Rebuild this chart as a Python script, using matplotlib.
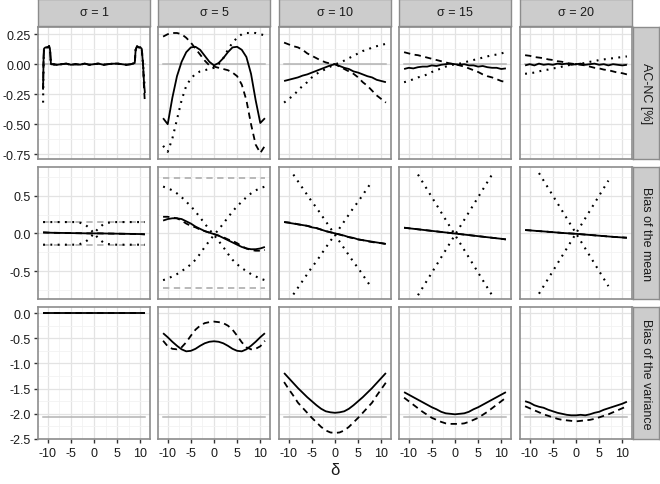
import numpy as np
import matplotlib.pyplot as plt

plt.rcParams['font.family'] = ['Liberation Sans', 'DejaVu Sans']
plt.rcParams['axes.unicode_minus'] = False

# facet labels
sigmas = ['σ = 1', 'σ = 5', 'σ = 10', 'σ = 15', 'σ = 20']
row_labels = ['AC-NC [%]', 'Bias of the mean', 'Bias of the variance']

delta = np.arange(-11, 12)

# ---- row 1: AC-NC [%] ----
delta_s1 = [-11, -10.9, -10.8, -10.5, -10.0, -9.7, -9.5, -9.3, -9, -8, -7, -6, -5, -4, -3, -2,
            -1, 0, 1, 2, 3, 4, 5, 6, 7, 8, 8.8, 9.0, 9.3, 9.7, 10.0, 10.3, 10.6, 10.8, 11]
acnc_s1_solid = [-0.21, 0.05, 0.13, 0.14, 0.14, 0.15, 0.12, 0.0, 0.0, -0.005, 0.0, 0.005, -0.005,
                 0.0, -0.004, 0.005, -0.005, 0.0, 0.005, -0.005, 0.0, 0.004, 0.005, 0.0, -0.005,
                 0.0, 0.01, 0.12, 0.15, 0.14, 0.14, 0.13, 0.0, -0.15, -0.24]
acnc_s1_dashed = [-0.21, 0.05, 0.13, 0.14, 0.14, 0.15, 0.12, 0.0, 0.0, -0.005, 0.0, 0.005, -0.005,
                  0.0, -0.004, 0.005, -0.005, 0.0, 0.005, -0.005, 0.0, 0.004, 0.005, 0.0, -0.005,
                  0.0, 0.01, 0.12, 0.15, 0.14, 0.14, 0.13, 0.0, -0.2, -0.32]
acnc_s1_dotted = [-0.32, 0.0, 0.13, 0.14, 0.14, 0.15, 0.12, 0.0, 0.0, -0.005, 0.0, 0.005, -0.005,
                  0.0, -0.004, 0.005, -0.005, 0.0, 0.005, -0.005, 0.0, 0.004, 0.005, 0.0, -0.005,
                  0.0, 0.01, 0.12, 0.15, 0.14, 0.14, 0.13, 0.0, -0.12, -0.2]

acnc_solid = [
    None,
    [-0.45, -0.50, -0.28, -0.10, 0.02, 0.10, 0.14, 0.145, 0.12, 0.07, 0.02, -0.01,
     0.01, 0.05, 0.1, 0.14, 0.145, 0.12, 0.06, -0.08, -0.3, -0.49, -0.45],
    [-0.14, -0.13, -0.12, -0.11, -0.095, -0.085, -0.07, -0.055, -0.04, -0.025, -0.01, 0.0,
     -0.015, -0.03, -0.04, -0.06, -0.07, -0.085, -0.1, -0.11, -0.13, -0.14, -0.15],
    [-0.04, -0.03, -0.035, -0.025, -0.02, -0.02, -0.01, -0.015, -0.005, 0.0, 0.005, 0.0,
     -0.005, 0.0, -0.01, -0.01, -0.02, -0.015, -0.025, -0.03, -0.03, -0.04, -0.035],
    [-0.01, 0.0, -0.01, 0.005, -0.005, 0.0, -0.005, 0.005, 0.0, 0.005, -0.005, 0.0,
     0.005, -0.005, 0.0, 0.005, -0.005, 0.0, -0.01, 0.0, -0.005, -0.01, -0.005],
]
acnc_dashed = [
    None,
    [0.23, 0.25, 0.26, 0.26, 0.25, 0.22, 0.18, 0.13, 0.08, 0.03, -0.01, -0.02,
     -0.03, -0.04, -0.05, -0.07, -0.1, -0.17, -0.3, -0.5, -0.67, -0.74, -0.68],
    [0.18, 0.165, 0.15, 0.14, 0.12, 0.09, 0.07, 0.05, 0.03, 0.015, 0.005, 0.0,
     -0.02, -0.04, -0.06, -0.08, -0.11, -0.15, -0.18, -0.22, -0.26, -0.29, -0.32],
    [0.10, 0.09, 0.08, 0.075, 0.065, 0.055, 0.045, 0.035, 0.025, 0.015, 0.005, 0.0,
     -0.01, -0.02, -0.035, -0.05, -0.065, -0.085, -0.1, -0.11, -0.125, -0.14, -0.15],
    [0.075, 0.07, 0.06, 0.055, 0.05, 0.04, 0.035, 0.025, 0.02, 0.01, 0.005, 0.0,
     -0.005, -0.01, -0.02, -0.03, -0.035, -0.045, -0.05, -0.06, -0.07, -0.075, -0.085],
]
acnc_dotted = [
    None,
    [-0.68, -0.73, -0.62, -0.46, -0.3, -0.18, -0.12, -0.08, -0.06, -0.05, -0.04, -0.03,
     0.0, 0.05, 0.12, 0.18, 0.22, 0.25, 0.26, 0.26, 0.26, 0.25, 0.24],
    [-0.32, -0.29, -0.26, -0.22, -0.18, -0.15, -0.11, -0.08, -0.06, -0.04, -0.02, 0.0,
     0.01, 0.03, 0.05, 0.07, 0.09, 0.11, 0.12, 0.14, 0.15, 0.16, 0.17],
    [-0.15, -0.14, -0.125, -0.11, -0.1, -0.085, -0.065, -0.05, -0.035, -0.02, -0.01, 0.0,
     0.005, 0.015, 0.025, 0.035, 0.045, 0.055, 0.065, 0.075, 0.08, 0.09, 0.10],
    [-0.08, -0.075, -0.07, -0.06, -0.05, -0.045, -0.035, -0.03, -0.02, -0.01, -0.005, 0.0,
     0.005, 0.01, 0.02, 0.025, 0.035, 0.04, 0.045, 0.05, 0.055, 0.06, 0.065],
]

# ---- row 2: bias of the mean ----
mean_solid = [
    [0.01, 0.01, 0.008, 0.007, 0.006, 0.005, 0.004, 0.003, 0.002, 0.001, 0.0, 0.0,
     0.0, -0.001, -0.002, -0.003, -0.004, -0.005, -0.006, -0.007, -0.008, -0.009, -0.01],
    [0.17, 0.19, 0.2, 0.2, 0.19, 0.16, 0.13, 0.09, 0.06, 0.03, 0.01, -0.01,
     -0.03, -0.06, -0.09, -0.12, -0.15, -0.18, -0.2, -0.21, -0.21, -0.2, -0.18],
    [0.15, 0.14, 0.13, 0.12, 0.11, 0.1, 0.08, 0.07, 0.05, 0.03, 0.015, 0.0,
     -0.015, -0.03, -0.05, -0.06, -0.08, -0.09, -0.1, -0.11, -0.12, -0.13, -0.14],
    [0.075, 0.068, 0.061, 0.054, 0.047, 0.04, 0.033, 0.026, 0.019, 0.012, 0.005, -0.002,
     -0.009, -0.016, -0.023, -0.03, -0.037, -0.044, -0.051, -0.058, -0.065, -0.072, -0.08],
    [0.044, 0.04, 0.035, 0.03, 0.026, 0.021, 0.016, 0.011, 0.006, 0.002, -0.002, -0.006,
     -0.011, -0.016, -0.021, -0.026, -0.031, -0.036, -0.041, -0.046, -0.05, -0.054, -0.058],
]
mean_dashed = [
    [0.015, 0.01, 0.008, 0.007, 0.006, 0.005, 0.004, 0.003, 0.002, 0.001, 0.0, 0.0,
     0.0, -0.001, -0.002, -0.003, -0.004, -0.005, -0.006, -0.007, -0.008, -0.01, -0.015],
    [0.22, 0.22, 0.21, 0.2, 0.17, 0.13, 0.1, 0.08, 0.05, 0.03, 0.01, -0.01,
     -0.03, -0.05, -0.08, -0.1, -0.13, -0.17, -0.2, -0.22, -0.23, -0.23, -0.22],
    [0.15, 0.145, 0.135, 0.12, 0.11, 0.1, 0.085, 0.07, 0.05, 0.03, 0.015, 0.0,
     -0.015, -0.035, -0.05, -0.065, -0.08, -0.09, -0.105, -0.115, -0.125, -0.13, -0.14],
    [0.075, 0.068, 0.061, 0.054, 0.047, 0.04, 0.033, 0.026, 0.019, 0.012, 0.005, -0.002,
     -0.009, -0.016, -0.023, -0.03, -0.037, -0.044, -0.051, -0.058, -0.065, -0.072, -0.08],
    [0.044, 0.04, 0.035, 0.03, 0.026, 0.021, 0.016, 0.011, 0.006, 0.002, -0.002, -0.006,
     -0.011, -0.016, -0.021, -0.026, -0.031, -0.036, -0.041, -0.046, -0.05, -0.054, -0.058],
]
delta_dot = [delta, delta, np.arange(-9, 9), np.arange(-8, 9), np.arange(-8, 8)]
mean_dot_down = [
    [0.15, 0.15, 0.15, 0.15, 0.15, 0.15, 0.15, 0.15, 0.14, 0.12, 0.07, 0.0,
     -0.07, -0.12, -0.14, -0.15, -0.15, -0.15, -0.15, -0.15, -0.15, -0.15, -0.15],
    [0.62, 0.6, 0.57, 0.53, 0.48, 0.42, 0.36, 0.29, 0.21, 0.13, 0.05, -0.02,
     -0.1, -0.18, -0.27, -0.35, -0.41, -0.46, -0.5, -0.54, -0.57, -0.6, -0.62],
    [0.78, 0.69, 0.6, 0.51, 0.42, 0.34, 0.25, 0.16, 0.07, -0.02, -0.11, -0.2,
     -0.29, -0.38, -0.46, -0.55, -0.64, -0.73],
    [0.78, 0.68, 0.58, 0.48, 0.38, 0.28, 0.18, 0.08, -0.02, -0.12, -0.22, -0.32,
     -0.42, -0.52, -0.62, -0.72, -0.82],
    [0.8, 0.7, 0.6, 0.5, 0.4, 0.3, 0.2, 0.1, 0.0, -0.1, -0.2, -0.3,
     -0.4, -0.5, -0.6, -0.7],
]
mean_dot_up = [
    [-0.15, -0.15, -0.15, -0.15, -0.15, -0.15, -0.15, -0.15, -0.14, -0.12, -0.07, 0.0,
     0.07, 0.12, 0.14, 0.15, 0.15, 0.15, 0.15, 0.15, 0.15, 0.15, 0.15],
    [-0.62, -0.6, -0.57, -0.54, -0.5, -0.46, -0.41, -0.35, -0.27, -0.18, -0.1, -0.02,
     0.05, 0.13, 0.21, 0.29, 0.36, 0.42, 0.48, 0.53, 0.57, 0.6, 0.62],
    [-0.81, -0.72, -0.63, -0.54, -0.45, -0.37, -0.28, -0.19, -0.1, -0.02, 0.07, 0.16,
     0.25, 0.34, 0.42, 0.51, 0.6, 0.69],
    [-0.82, -0.72, -0.62, -0.52, -0.42, -0.32, -0.22, -0.12, -0.02, 0.08, 0.18, 0.28,
     0.38, 0.48, 0.58, 0.68, 0.78],
    [-0.8, -0.7, -0.6, -0.5, -0.4, -0.3, -0.2, -0.1, 0.0, 0.1, 0.2, 0.3,
     0.4, 0.5, 0.6, 0.7],
]
mean_ref = [0.15, 0.73, None, None, None]

# ---- row 3: bias of the variance ----
var_solid = [
    [0.0] * 23,
    [-0.4, -0.48, -0.57, -0.65, -0.72, -0.76, -0.75, -0.71, -0.65, -0.6, -0.57, -0.56,
     -0.57, -0.6, -0.65, -0.71, -0.75, -0.76, -0.72, -0.65, -0.57, -0.48, -0.4],
    [-1.19, -1.29, -1.39, -1.49, -1.58, -1.67, -1.75, -1.83, -1.9, -1.95, -1.97, -1.98,
     -1.97, -1.95, -1.9, -1.83, -1.75, -1.67, -1.58, -1.49, -1.39, -1.29, -1.19],
    [-1.57, -1.62, -1.67, -1.72, -1.77, -1.82, -1.87, -1.91, -1.96, -1.99, -2.0, -2.01,
     -2.0, -1.99, -1.96, -1.91, -1.87, -1.82, -1.77, -1.72, -1.67, -1.62, -1.57],
    [-1.75, -1.78, -1.83, -1.86, -1.88, -1.92, -1.95, -1.98, -2.0, -2.02, -2.03, -2.03,
     -2.02, -2.03, -2.01, -1.98, -1.96, -1.92, -1.89, -1.86, -1.83, -1.8, -1.76],
]
var_dashed = [
    [0.0] * 23,
    [-0.55, -0.66, -0.71, -0.72, -0.68, -0.58, -0.45, -0.33, -0.25, -0.2, -0.18, -0.17,
     -0.18, -0.2, -0.25, -0.33, -0.45, -0.58, -0.68, -0.72, -0.71, -0.66, -0.55],
    [-1.37, -1.51, -1.64, -1.78, -1.88, -1.98, -2.08, -2.17, -2.26, -2.33, -2.37, -2.38,
     -2.37, -2.33, -2.26, -2.17, -2.08, -1.98, -1.88, -1.78, -1.64, -1.51, -1.38],
    [-1.68, -1.75, -1.82, -1.89, -1.96, -2.02, -2.08, -2.12, -2.16, -2.19, -2.2, -2.2,
     -2.2, -2.19, -2.16, -2.12, -2.08, -2.02, -1.96, -1.89, -1.82, -1.75, -1.68],
    [-1.85, -1.89, -1.93, -1.97, -2.01, -2.04, -2.07, -2.1, -2.12, -2.13, -2.14, -2.15,
     -2.14, -2.13, -2.12, -2.1, -2.07, -2.04, -2.01, -1.97, -1.93, -1.89, -1.85],
]
var_ref = -2.07

row_ylim = [(-0.79, 0.31), (-0.87, 0.88), (-2.5, 0.12)]
row_ticks = [[0.25, 0.0, -0.25, -0.5, -0.75], [0.5, 0.0, -0.5], [0.0, -0.5, -1.0, -1.5, -2.0, -2.5]]
row_ticklabels = [['0.25', '0.00', '-0.25', '-0.50', '-0.75'], ['0.5', '0.0', '-0.5'],
                  ['0.0', '-0.5', '-1.0', '-1.5', '-2.0', '-2.5']]
row_minor = [[0.125, -0.125, -0.375, -0.625], [0.75, 0.25, -0.25, -0.75],
             [-0.25, -0.75, -1.25, -1.75, -2.25]]

W, H = 660, 485
fig = plt.figure(figsize=(W / 100, H / 100), dpi=100)

col_left = [38, 158, 279, 399, 520]
pan_w = 112
row_top = [28, 168, 308]
pan_h = 132
strip_col = '#cccccc'
edge_col = '#8c8c8c'
txt_col = '#1a1a1a'

solid_kw = dict(color='black', lw=1.3, solid_capstyle='butt')
dash_kw = dict(color='black', lw=1.3, linestyle=(0, (3.5, 2.5)))
dot_kw = dict(color='black', lw=1.5, linestyle=(0, (0.9, 2.6)))
gray_kw = dict(color='#b3b3b3', lw=1.1)
gray_dash_kw = dict(color='#b3b3b3', lw=1.3, linestyle=(0, (3.5, 2.5)))


def add_axes_px(x, y, w, h):
    return fig.add_axes([x / W, 1 - (y + h) / H, w / W, h / H])


for r in range(3):
    for c in range(5):
        ax = add_axes_px(col_left[c], row_top[r], pan_w, pan_h)
        ax.set_xlim(-12.1, 12.1)
        ax.set_ylim(*row_ylim[r])
        ax.set_xticks([-10, -5, 0, 5, 10])
        ax.set_xticks([-7.5, -2.5, 2.5, 7.5], minor=True)
        ax.set_yticks(row_ticks[r])
        ax.set_yticks(row_minor[r], minor=True)
        ax.set_yticklabels(row_ticklabels[r])
        ax.grid(which='major', color='#e3e3e3', lw=0.9)
        ax.grid(which='minor', color='#f2f2f2', lw=0.6)
        ax.set_axisbelow(True)
        for s in ax.spines.values():
            s.set_color(edge_col)
            s.set_linewidth(1.2)
        ax.tick_params(which='minor', length=0)
        ax.tick_params(which='major', length=3, width=1, color='#333333',
                       labelsize=9, labelcolor=txt_col, pad=2)
        ax.tick_params(axis='x', pad=3)
        ax.tick_params(left=(c == 0), labelleft=(c == 0),
                       bottom=(r == 2), labelbottom=(r == 2))

        if r == 0:
            ax.plot([-11, 11], [0, 0], **gray_kw)
            if c == 0:
                ax.plot(delta_s1, acnc_s1_dotted, **dot_kw)
                ax.plot(delta_s1, acnc_s1_dashed, **dash_kw)
                ax.plot(delta_s1, acnc_s1_solid, **solid_kw)
            else:
                ax.plot(delta, acnc_dotted[c], **dot_kw)
                ax.plot(delta, acnc_dashed[c], **dash_kw)
                ax.plot(delta, acnc_solid[c], **solid_kw)
        elif r == 1:
            if mean_ref[c] is not None:
                ax.plot([-11, 11], [mean_ref[c], mean_ref[c]], **gray_dash_kw)
                ax.plot([-11, 11], [-mean_ref[c], -mean_ref[c]], **gray_dash_kw)
            ax.plot(delta_dot[c], mean_dot_down[c], **dot_kw)
            ax.plot(delta_dot[c], mean_dot_up[c], **dot_kw)
            ax.plot(delta, mean_dashed[c], **dash_kw)
            ax.plot(delta, mean_solid[c], **solid_kw)
        else:
            ax.plot([-11, 11], [var_ref, var_ref], **gray_kw)
            ax.plot(delta, var_dashed[c], **dash_kw)
            ax.plot(delta, var_solid[c], **solid_kw)

# top strips
for c in range(5):
    sx = add_axes_px(col_left[c], 0, pan_w, 27)
    sx.set_facecolor(strip_col)
    sx.set_xticks([])
    sx.set_yticks([])
    for s in sx.spines.values():
        s.set_color(edge_col)
        s.set_linewidth(1.0)
    sx.text(0.5, 0.5, sigmas[c], transform=sx.transAxes, ha='center', va='center',
            fontsize=9, color=txt_col)

# right strips
for r in range(3):
    sx = add_axes_px(633, row_top[r], 26, pan_h)
    sx.set_facecolor(strip_col)
    sx.set_xticks([])
    sx.set_yticks([])
    for s in sx.spines.values():
        s.set_color(edge_col)
        s.set_linewidth(1.0)
    sx.text(0.5, 0.5, row_labels[r], transform=sx.transAxes, ha='center', va='center',
            rotation=-90, fontsize=9, color=txt_col)

fig.text(335 / W, 1 - 471 / H, 'δ', ha='center', va='center', fontsize=12, color=txt_col)

fig.savefig('out.png', dpi=100)
